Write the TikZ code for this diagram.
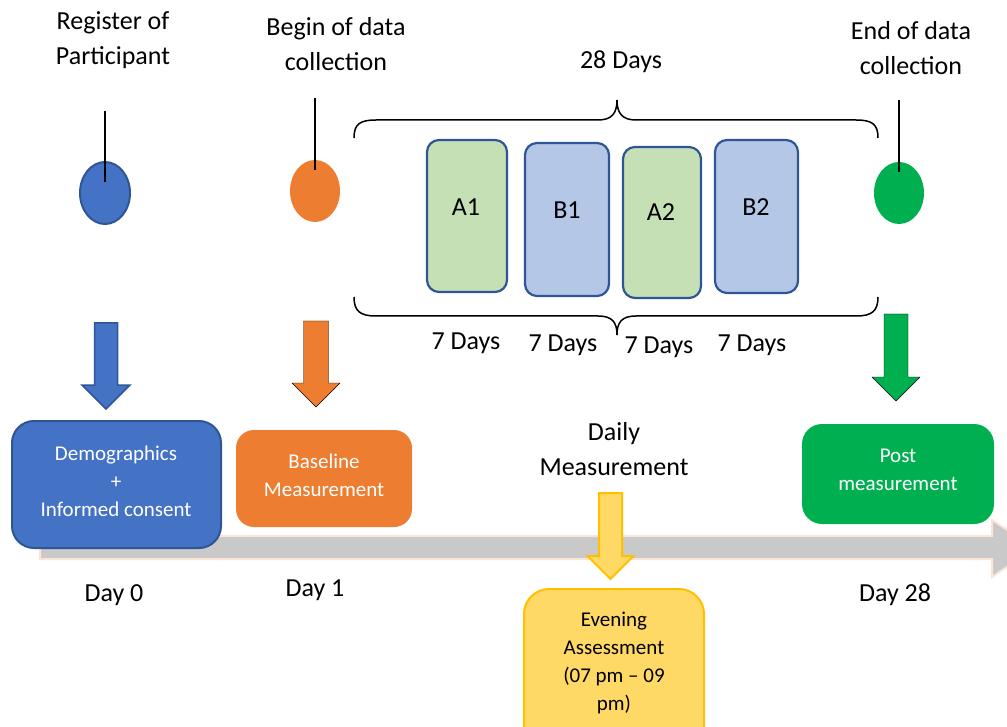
\documentclass[tikz,border=0pt]{standalone}
\usepackage{fontspec}
\setmainfont{Carlito}
\usetikzlibrary{shapes.geometric}
\definecolor{cblue}{HTML}{4472C4}
\definecolor{cdark}{HTML}{2F5597}
\definecolor{corange}{HTML}{ED7D31}
\definecolor{cgreen}{HTML}{00B050}
\definecolor{lgreen}{HTML}{C5E0B4}
\definecolor{lblue}{HTML}{B4C7E7}
\definecolor{cyel}{HTML}{FFD966}
\definecolor{cyeld}{HTML}{FFC000}
\definecolor{cgray}{HTML}{C9C9C9}
\definecolor{cpeach}{HTML}{FBE5D6}
\newcommand\bdarrow[7]{\draw[#1] (#2-#6,#3) -- (#2+#6,#3) -- (#2+#6,#4) -- (#2+#7,#4) -- (#2,#5) -- (#2-#7,#4) -- (#2-#6,#4) -- cycle;}
\begin{document}
\begin{tikzpicture}[x=1pt,y=-1pt,
  big/.style={font=\fontsize{26}{35}\selectfont, align=center, inner sep=0},
  small/.style={font=\fontsize{21}{28}\selectfont, align=center, inner sep=0, text=white},
  dot/.style={ellipse, minimum width=50, minimum height=62, inner sep=0},
  period/.style={draw=cdark, line width=2.2, rounded corners=12, inner sep=0},
  stem/.style={line width=1.5, black},
  brace/.style={line width=1.5, black},
  bigbox/.style={inner sep=0, rounded corners=20}]
\useasboundingbox (0,0) rectangle (1007,727);
\clip (0,0) rectangle (1007,727);

% top labels
\node[big] (lreg) at (113,40.5) {Register of\\Participant};
\node[big] (lbeg) at (336,44.5) {Begin of data\\collection};
\node[big] (l28) at (621,62) {28 Days};
\node[big] (lend) at (911,48.5) {End of data\\collection};

% dots
\node[dot, fill=cblue, draw=cdark, line width=2] (d0) at (105,193) {};
\node[dot, fill=corange] (d1) at (315,191) {};
\node[dot, fill=cgreen] (d28) at (899,193) {};
\coordinate (t0) at (105,111);
\coordinate (t1) at (315,98);
\coordinate (t28) at (899,100);
\draw[stem] (t0) -- ([yshift=11]d0.center);
\draw[stem] (t1) -- ([yshift=21]d1.center);
\draw[stem] (t28) -- ([yshift=21]d28.center);

% braces
\draw[brace] (354,138) .. controls (354,124) and (360,120) .. (376,120) -- (598,120) .. controls (612,120) and (617,113) .. (617,100) .. controls (617,113) and (622,120) .. (636,120) -- (856,120) .. controls (872,120) and (878,124) .. (878,138);
\draw[brace] (354,297) .. controls (354,311) and (360,316) .. (376,316) -- (598,316) .. controls (612,316) and (617,322) .. (617,335) .. controls (617,322) and (622,316) .. (636,316) -- (856,316) .. controls (872,316) and (878,311) .. (878,297);

% periods
\node[period, fill=lgreen, minimum width=80, minimum height=152] (A1) at (467,216) {};
\node[period, fill=lblue, minimum width=84, minimum height=153] (B1) at (567,219.5) {};
\node[period, fill=lgreen, minimum width=78, minimum height=151] (A2) at (662,222.5) {};
\node[period, fill=lblue, minimum width=83, minimum height=153] (B2) at (756.5,216.5) {};
\node[big] (tA1) at (466,207) {A1};
\node[big] (tB1) at (567,210) {B1};
\node[big] (tA2) at (661,212) {A2};
\node[big] (tB2) at (756,207) {B2};
\node[big] (w1) at (466,343) {7 Days};
\node[big] (w2) at (563,345) {7 Days};
\node[big] (w3) at (659,347) {7 Days};
\node[big] (w4) at (752,345) {7 Days};

% block arrows
\bdarrow{fill=cblue, draw=cdark, line width=1.5}{106}{323}{385}{409}{11.5}{24}
\bdarrow{fill=corange}{316}{321}{383}{407}{12.5}{24}
\bdarrow{fill=cgreen}{896}{314}{377}{401}{12}{24}

% timeline
\draw[fill=cgray, draw=cpeach, line width=2] (40,536) -- (992,536) -- (992,520) -- (1035,548) -- (992,577) -- (992,559) -- (40,559) -- cycle;

% bottom boxes
\node[bigbox, fill=cblue, draw=cdark, line width=2, minimum width=209, minimum height=127, rounded corners=22] (demo) at (116.5,484.5) {};
\node[small] (demot) at (116,481) {Demographics\\+\\Informed consent};
\node[bigbox, fill=corange, minimum width=176, minimum height=97, rounded corners=18] (base) at (324,478.5) {};
\node[small] (baset) at (324,475.5) {Baseline\\Measurement};
\node[bigbox, fill=cgreen, minimum width=192, minimum height=100] (post) at (898,474) {};
\node[small] (postt) at (898,469.5) {Post\\measurement};

\node[big] (daily) at (614,449.5) {Daily\\Measurement};
\bdarrow{fill=cyel, draw=cyeld, line width=2}{610.5}{493}{556}{579}{11.5}{23}
\node[bigbox, fill=cyel, draw=cyeld, line width=2, minimum width=180, minimum height=170, rounded corners=25, anchor=north] (eve) at (614,588) {};
\node[small, text=black] (evet) at (614,663) {Evening\\Assessment\\(07 pm -- 09\\pm)};

% day labels
\node[big] (day0) at (114,595) {Day 0};
\node[big] (day1) at (315,590) {Day 1};
\node[big] (day28) at (895,595) {Day 28};
\end{tikzpicture}
\end{document}
